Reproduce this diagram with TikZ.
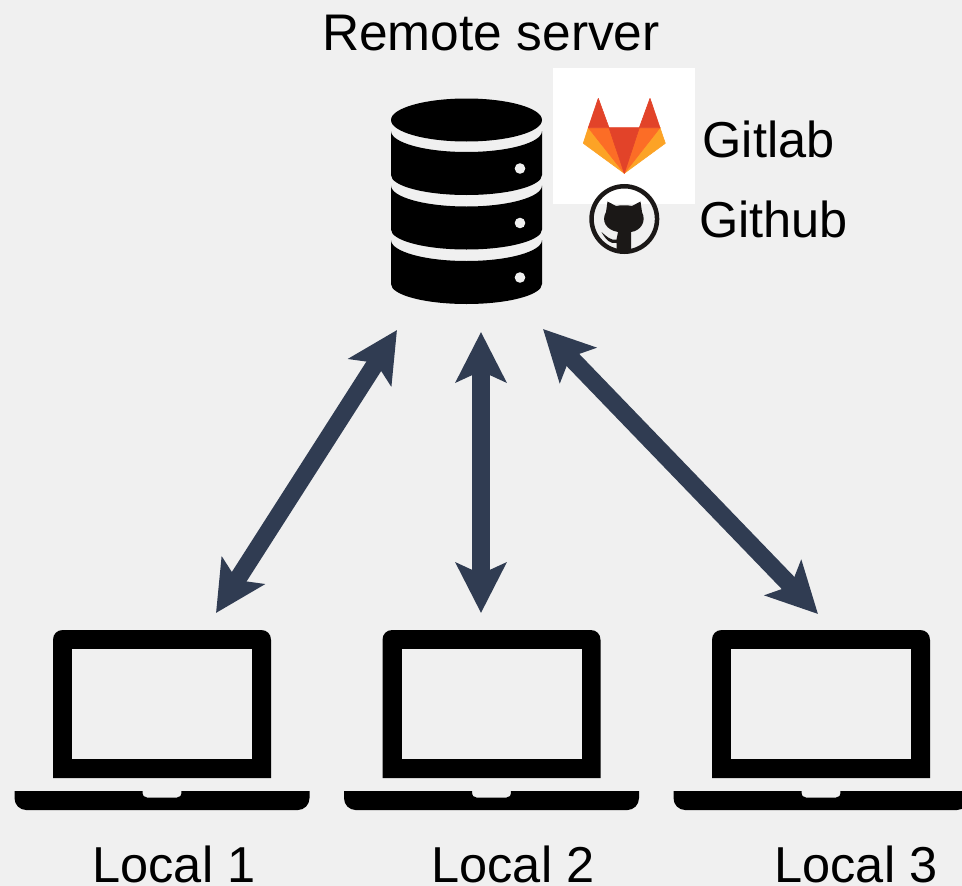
\documentclass[tikz,border=0pt]{standalone}
\usepackage{fontspec}
\setmainfont{Liberation Sans}
\usepackage{xcolor}
\usetikzlibrary{arrows.meta}
\definecolor{bgcol}{HTML}{F0F0F0}
\definecolor{arrowcol}{HTML}{303C52}
\definecolor{glred}{HTML}{E24329}
\definecolor{glorange}{HTML}{FC6D26}
\definecolor{glyellow}{HTML}{FCA326}
\definecolor{ghcol}{HTML}{1B1817}
\newcommand{\lbl}{\fontsize{50.5}{60}\selectfont}
\tikzset{
  iconbox/.style = {inner sep = 0pt, outer sep = 0pt},
  label/.style = {inner sep = 0pt, anchor = base, font = \lbl},
  link/.style = {arrowcol, line width = 17.5, {Stealth[length=50, width=50, inset=11]}-{Stealth[length=50, width=50, inset=11]}},
  glpiece/.style = {line width = 0.6, line join = round},
  laptop/.pic = {
    \fill[black] (-109,58) -- (-109,-80) .. controls (-109,-86) and (-105,-90) .. (-99,-90) -- (99,-90) .. controls (105,-90) and (109,-86) .. (109,-80) -- (109,58) -- cycle;
    \fill[bgcol] (-90,-71) rectangle (90,38.5);
    \fill[black] (-147.5,71) -- (-19.5,71) .. controls (-19.5,76) and (-18,77.5) .. (-15,77.5) -- (15,77.5) .. controls (18,77.5) and (19.5,76) .. (19.5,71) -- (147.5,71) -- (147.5,78) .. controls (147.5,85) and (142,90) .. (136,90) -- (-136,90) .. controls (-142,90) and (-147.5,85) .. (-147.5,78) -- cycle;
  }
}
\begin{document}
\begin{tikzpicture}[x = 1pt, y = -1pt]
    \useasboundingbox (0,0) rectangle (962,886);
    \fill[bgcol] (0,0) rectangle (962,886);
    % server
    \node[iconbox, minimum width = 151, minimum height = 204] (srv) at (466.5,201) {};
    \fill[black] (466.5,120) ellipse [x radius = 75.5, y radius = 21.5];
    \foreach \y in {131, 185.5, 240} {
      \fill[black] (391,\y) arc [start angle = 180, end angle = 0, x radius = 75.5, y radius = 21] -- ++(0,44) arc [start angle = 0, end angle = 180, x radius = 75.5, y radius = 20] -- cycle;
      \fill[bgcol] (520,\y+37.5) circle [radius = 5.3];
    }
    % logos
    \node[iconbox, fill = white, minimum width = 142, minimum height = 136] (gitlab) at (624,136) {};
    \filldraw[glpiece, glyellow] (588.3,127.7) -- (583.3,143.3) -- (624.3,173.3) -- cycle;
    \filldraw[glpiece, glyellow] (660,127.7) -- (665.3,143.3) -- (624.3,173.3) -- cycle;
    \filldraw[glpiece, glorange] (588.3,127.7) -- (609,127.7) -- (624.3,173.3) -- cycle;
    \filldraw[glpiece, glorange] (660,127.7) -- (639.3,127.7) -- (624.3,173.3) -- cycle;
    \filldraw[glpiece, glred] (588.3,127.7) -- (598.3,98.3) -- (609,127.7) -- cycle;
    \filldraw[glpiece, glred] (639.3,127.7) -- (650,98.3) -- (660,127.7) -- cycle;
    \filldraw[glpiece, glred] (609,127.7) -- (639.3,127.7) -- (624.3,173.3) -- cycle;
    \node[iconbox, circle, draw = ghcol, line width = 4.5, minimum size = 65.5] (github) at (624.3,219) {};
    \fill[ghcol] (607.5,201.5) -- (616,206) .. controls (621,205) and (627,205) .. (632,206) -- (640.5,201.5) -- (642,212) .. controls (647,222) and (640,231) .. (631,232) -- (631,252.5) -- (616.5,252.5) -- (616.5,243) .. controls (610,244) and (606,240) .. (601.5,232) .. controls (606,236) and (611,241) .. (616.5,239.5) -- (618,232) .. controls (606,230) and (601,221) .. (606,212) -- cycle;
    % laptops
    \foreach \i/\x in {1/162, 2/491.5, 3/821} {
      \node[iconbox, minimum width = 295, minimum height = 180] (lap\i) at (\x,720) {};
      \pic at (lap\i) {laptop};
    }
    % free arrow ends
    \coordinate (up1) at (397,330);
    \coordinate (up2) at (481,332);
    \coordinate (up3) at (543,329);
    \coordinate (dn1) at (216,613);
    \coordinate (dn2) at (481,613);
    \coordinate (dn3) at (818,614);
    \foreach \i in {1, 2, 3} {
      \draw[link] (up\i) -- (dn\i);
    }
    % labels
    \node[label, font = \fontsize{51.5}{60}\selectfont] (remote) at (491,50) {Remote server};
    \node[label] (gltxt) at (768.5,157) {Gitlab};
    \node[label] (ghtxt) at (773.5,237) {Github};
    \node[label] (loc1) at (174,882) {Local 1};
    \node[label] (loc2) at (513,882) {Local 2};
    \node[label] (loc3) at (856,882) {Local 3};
\end{tikzpicture}
\end{document}
